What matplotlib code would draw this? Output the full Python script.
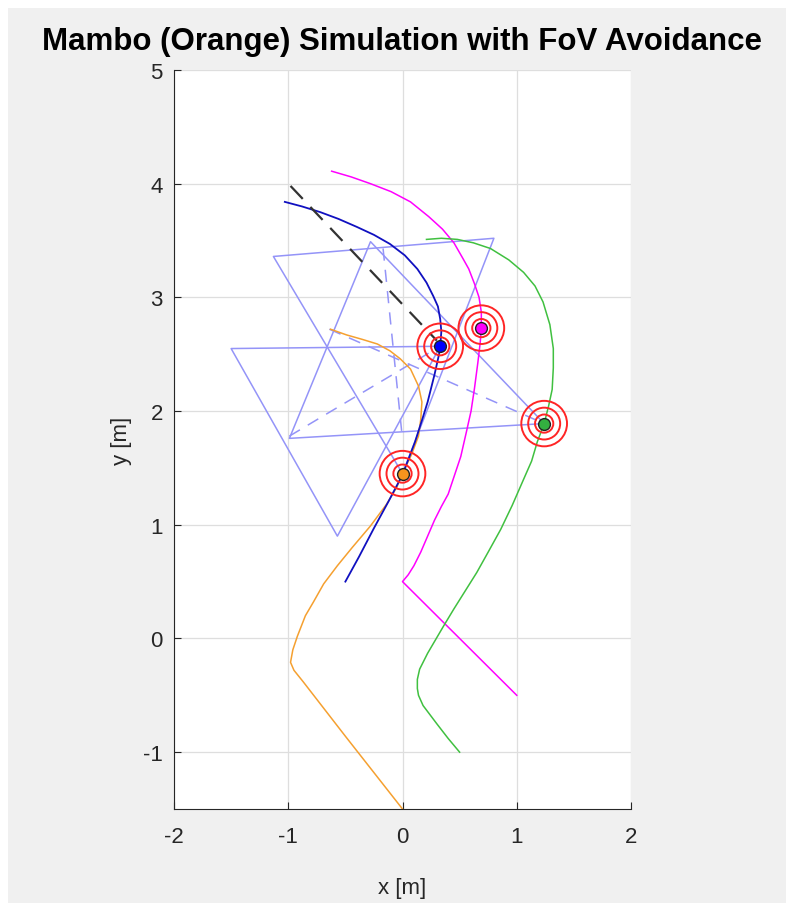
import numpy as np
import matplotlib.pyplot as plt
from matplotlib.patches import Circle, Rectangle

plt.rcParams['axes.unicode_minus'] = False

# === TRAJECTORIES (x, y in m) ===
orange_x = [0.00, -0.50, -0.87, -0.95, -0.98, -0.96, -0.92, -0.85, -0.78, -0.69, -0.57, -0.44,
            -0.28, -0.14, -0.05, 0.00, 0.08, 0.14, 0.16, 0.17, 0.14, 0.07, -0.02, -0.11, -0.22,
            -0.35, -0.49, -0.63]
orange_y = [-1.50, -0.86, -0.38, -0.28, -0.21, -0.10, 0.02, 0.20, 0.32, 0.48, 0.64, 0.80,
            0.99, 1.18, 1.33, 1.45, 1.62, 1.78, 1.93, 2.08, 2.22, 2.37, 2.46, 2.53, 2.59,
            2.63, 2.67, 2.72]

blue_x = [-0.50, -0.38, -0.25, -0.12, 0.00, 0.11, 0.18, 0.22, 0.28, 0.32, 0.33, 0.34, 0.33,
          0.31, 0.27, 0.21, 0.13, 0.02, -0.11, -0.25, -0.40, -0.56, -0.72, -0.88, -1.03]
blue_y = [0.50, 0.72, 0.97, 1.21, 1.44, 1.73, 1.95, 2.08, 2.32, 2.50, 2.57, 2.70, 2.81,
          2.92, 3.01, 3.13, 3.25, 3.37, 3.47, 3.55, 3.62, 3.69, 3.75, 3.80, 3.84]

magenta_x = [1.00, 0.00, 0.05, 0.10, 0.16, 0.22, 0.28, 0.34, 0.40, 0.46, 0.51, 0.56, 0.60,
             0.63, 0.66, 0.68, 0.69, 0.69, 0.67, 0.63, 0.58, 0.53, 0.45, 0.35, 0.23, 0.07,
             -0.10, -0.28, -0.45, -0.62]
magenta_y = [-0.50, 0.50, 0.56, 0.64, 0.76, 0.90, 1.04, 1.16, 1.27, 1.45, 1.60, 1.82, 2.00,
             2.20, 2.43, 2.60, 2.73, 2.87, 3.00, 3.12, 3.25, 3.34, 3.48, 3.60, 3.71, 3.84,
             3.93, 4.00, 4.06, 4.11]

green_x = [0.50, 0.40, 0.30, 0.18, 0.14, 0.13, 0.13, 0.15, 0.22, 0.29, 0.36, 0.45, 0.55,
           0.65, 0.75, 0.86, 0.96, 1.06, 1.13, 1.18, 1.24, 1.28, 1.31, 1.32, 1.32, 1.29,
           1.23, 1.16, 1.06, 0.93, 0.77, 0.62, 0.48, 0.34, 0.21]
green_y = [-1.00, -0.88, -0.75, -0.59, -0.50, -0.44, -0.36, -0.27, -0.13, -0.01, 0.11, 0.26,
           0.42, 0.58, 0.76, 0.96, 1.17, 1.40, 1.56, 1.73, 1.89, 2.05, 2.19, 2.38, 2.55,
           2.76, 2.96, 3.10, 3.22, 3.33, 3.43, 3.48, 3.51, 3.52, 3.51]

# reference path (black dashed)
ref_x = [-0.98, 0.30]
ref_y = [3.98, 2.62]

# === DRONE POSITIONS ===
drone_x = [0.00, 0.33, 0.69, 1.24]
drone_y = [1.45, 2.57, 2.73, 1.89]
drone_colors = ['#f7941d', '#0000ff', '#ff00ff', '#33b040']
ring_radii = [0.20, 0.14, 0.08]

# === FoV TRIANGLES (apex = drone) ===
fov_x = [[0.00, -1.13, 0.80, 0.00],
         [0.33, -1.50, -0.57, 0.33],
         [1.24, -0.28, -0.99, 1.24]]
fov_y = [[1.45, 3.36, 3.52, 1.45],
         [2.57, 2.55, 0.90, 2.57],
         [1.89, 3.49, 1.76, 1.89]]

# dashed FoV lines
dash_x = [[-0.17, 0.00], [-0.64, 1.24], [-0.99, 0.33]]
dash_y = [[3.43, 1.75], [2.72, 1.89], [1.78, 2.57]]

# === PLOT ===
fig = plt.figure(figsize=(7.86, 9.04), dpi=100, facecolor='white')
fig.patches.append(Rectangle((8 / 786, 0), 1, 1 - 9 / 904, transform=fig.transFigure,
                             facecolor='#f0f0f0', edgecolor='none', zorder=-10))
ax = fig.add_axes([174 / 786, 94 / 904, 457 / 786, 739 / 904])
ax.set_facecolor('white')

fov_color = '#9494f8'
for fx, fy in zip(fov_x, fov_y):
    ax.plot(fx, fy, color=fov_color, linewidth=1.1)
for dx, dy in zip(dash_x, dash_y):
    ax.plot(dx, dy, color=fov_color, linewidth=1.1, linestyle=(0, (8, 6)))

ax.plot(orange_x, orange_y, color='#f5a030', linewidth=1.1)
ax.plot(blue_x, blue_y, color='#1010c0', linewidth=1.3)
ax.plot(magenta_x, magenta_y, color='#ff00ff', linewidth=1.1)
ax.plot(green_x, green_y, color='#40c040', linewidth=1.1)
ax.plot(ref_x, ref_y, color='#333333', linewidth=1.6, linestyle=(0, (8, 5)))

for x, y, c in zip(drone_x, drone_y, drone_colors):
    for r in ring_radii:
        ax.add_patch(Circle((x, y), r, fill=False, edgecolor='#ff2525', linewidth=1.4, zorder=4))
    ax.plot(x, y, 'o', markersize=8.5, markerfacecolor=c, markeredgecolor='#202020',
            markeredgewidth=1.0, zorder=5)

ax.set_xlim(-2, 2)
ax.set_ylim(-1.5, 5)
ax.set_xticks([-2, -1, 0, 1, 2])
ax.set_yticks([-1, 0, 1, 2, 3, 4, 5])
ax.grid(True, color='#dedede', linewidth=0.9)
ax.set_axisbelow(True)
ax.spines['top'].set_visible(False)
ax.spines['right'].set_visible(False)
ax.spines['left'].set_color('#262626')
ax.spines['bottom'].set_color('#262626')
ax.tick_params(direction='in', length=5, color='#262626', labelcolor='#262626', labelsize=16)
ax.tick_params(axis='x', pad=12)
ax.tick_params(axis='y', pad=8)
for lab in ax.get_xticklabels() + ax.get_yticklabels():
    lab.set_fontfamily('Liberation Sans')

ax.set_xlabel('x [m]', fontsize=16, family='Liberation Sans', color='#262626', labelpad=22)
ax.set_ylabel('y [m]', fontsize=16, family='Liberation Sans', color='#262626', labelpad=8)
fig.text(402.5 / 786, 1 - 42 / 904, 'Mambo (Orange) Simulation with FoV Avoidance',
         ha='center', va='center', fontsize=22.5, fontweight='bold', family='Liberation Sans')

plt.savefig('out.png', dpi=100)
